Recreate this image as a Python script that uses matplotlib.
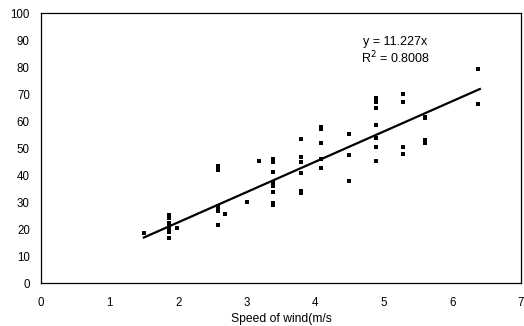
import matplotlib
matplotlib.use("Agg")
import matplotlib.pyplot as plt
import numpy as np

plt.rcParams['font.family'] = ['Liberation Sans', 'DejaVu Sans']

wind = [1.5,
        1.87, 1.87, 1.87, 1.87, 1.87, 1.87, 1.87, 1.87,
        1.98,
        2.58, 2.58, 2.58, 2.58, 2.58, 2.58,
        2.68, 3.0, 3.18,
        3.38, 3.38, 3.38, 3.38, 3.38, 3.38, 3.38, 3.38,
        3.79, 3.79, 3.79, 3.79, 3.79, 3.79,
        4.08, 4.08, 4.08, 4.08, 4.08,
        4.49, 4.49, 4.49,
        4.88, 4.88, 4.88, 4.88, 4.88, 4.88, 4.88,
        5.28, 5.28, 5.28, 5.28,
        5.6, 5.6, 5.6, 5.6,
        6.38, 6.38]
value = [18.6,
         25.2, 24.0, 22.2, 21.0, 20.4, 19.6, 18.8, 16.7,
         20.4,
         43.3, 42.0, 28.5, 27.5, 26.5, 21.5,
         25.5, 30.0, 45.2,
         46.0, 45.0, 41.0, 37.4, 36.0, 33.7, 29.6, 29.0,
         53.3, 46.7, 45.0, 40.7, 34.0, 33.3,
         57.8, 57.0, 51.8, 46.0, 42.6,
         55.2, 47.4, 37.8,
         68.5, 67.0, 64.8, 58.5, 53.7, 50.4, 45.2,
         70.0, 67.0, 50.4, 47.8,
         61.5, 61.0, 53.0, 52.0,
         79.3, 66.3]
slope = 11.227
r2 = 0.8008
fit_x = [1.5, 6.4]

fig = plt.figure(figsize=(5.24, 3.26), dpi=100)
ax = fig.add_axes([0.0782, 0.1319, 0.9161, 0.8282])
ax.scatter(wind, value, marker='s', s=5, color='black', zorder=3, linewidths=0)
fx = np.array(fit_x)
ax.plot(fx, slope * fx, color='black', lw=1.6, zorder=2)

ax.set_xlim(0, 7)
ax.set_ylim(0, 100)
ax.set_xticks(range(0, 8))
ax.set_yticks(range(0, 101, 10))
ax.tick_params(axis='both', length=0, labelsize=8.3)
ax.tick_params(axis='x', pad=10)
ax.tick_params(axis='y', pad=8)
for s in ax.spines.values():
    s.set_linewidth(0.9)
ax.set_xlabel('Speed of wind(m/s', fontsize=8.7, labelpad=3)
ax.text(4.7, 89.3, 'y = 11.227x', fontsize=9, ha='left', va='center')
ax.text(4.67, 83.5, 'R$^2$ = 0.8008', fontsize=9, ha='left', va='center')

fig.savefig('out.png', dpi=100)
